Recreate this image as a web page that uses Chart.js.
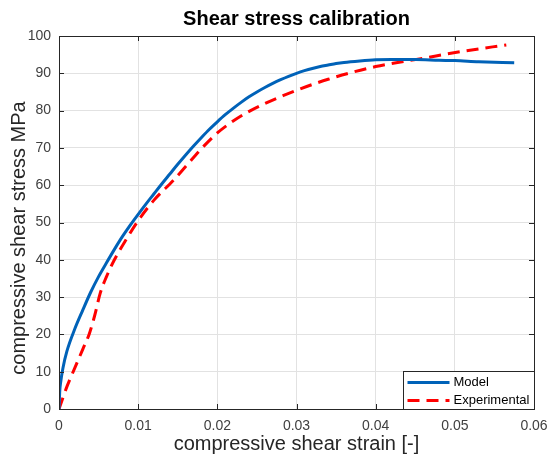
<!DOCTYPE html>
<html>
<head>
<meta charset="utf-8">
<script src="https://cdn.jsdelivr.net/npm/chart.js@4.4.0/dist/chart.umd.min.js"></script>
<style>
  body { margin: 0; background: #fff; }
  #wrap { width: 549px; height: 462px; }
</style>
</head>
<body>
<div id="wrap"><canvas id="chart" width="549" height="462"></canvas></div>
<script>
// values
const modelStrain = [0, 0.0001, 0.0002, 0.0005, 0.001, 0.002, 0.003, 0.004, 0.005, 0.006, 0.007, 0.008, 0.009, 0.010,
    0.011, 0.012, 0.013, 0.014, 0.015, 0.016, 0.017, 0.018, 0.019, 0.020, 0.021, 0.022, 0.023, 0.024, 0.025,
    0.026, 0.027, 0.028, 0.029, 0.030, 0.031, 0.032, 0.033, 0.034, 0.035, 0.036, 0.038, 0.040, 0.042, 0.045,
    0.048, 0.050, 0.053, 0.0575];
const modelStress = [0, 5, 7, 11, 15.5, 21.5, 26.5, 31.3, 35.5, 39.2, 42.8, 46.2, 49.3, 52.2,
    55.0, 57.7, 60.4, 63.0, 65.6, 68.1, 70.5, 72.8, 75.0, 77.0, 78.9, 80.6, 82.2, 83.7, 85.0,
    86.2, 87.3, 88.3, 89.2, 90.0, 90.7, 91.3, 91.8, 92.2, 92.6, 92.9, 93.3, 93.6, 93.7, 93.7,
    93.5, 93.4, 93.1, 92.8];

const expStrain = [0, 0.001, 0.002, 0.003, 0.0038, 0.0045, 0.0052, 0.006, 0.007, 0.0085, 0.010, 0.012, 0.0144,
    0.016, 0.0179, 0.020, 0.022, 0.0242, 0.0283, 0.034, 0.040, 0.0459, 0.0513, 0.0565];
const expStress = [0, 6, 11, 16, 20, 25, 31, 35.5, 40, 45.5, 50.5, 56.0, 61.2,
    65.0, 69.6, 74.0, 77.2, 80, 84.0, 88.4, 91.8, 94.0, 96.0, 97.6];

const xTickValues = [0, 0.01, 0.02, 0.03, 0.04, 0.05, 0.06];
const yTickValues = [0, 10, 20, 30, 40, 50, 60, 70, 80, 90, 100];

const toPoints = (xs, ys) => xs.map((x, i) => ({ x: x, y: ys[i] }));

const axisColor = '#262626';
const gridColor = '#e2e2e2';
const fontFamily = '"Liberation Sans", Arial, Helvetica, sans-serif';

// box round the plot with inward tick marks, like the original
const axesBox = {
    id: 'axesBox',
    afterDraw(chart) {
        const { ctx, chartArea: a, scales } = chart;
        const len = 5;
        ctx.save();
        ctx.strokeStyle = axisColor;
        ctx.lineWidth = 1;
        ctx.beginPath();
        xTickValues.forEach(v => {
            const px = Math.round(scales.x.getPixelForValue(v)) + 0.5;
            ctx.moveTo(px, a.bottom); ctx.lineTo(px, a.bottom - len);
            ctx.moveTo(px, a.top); ctx.lineTo(px, a.top + len);
        });
        yTickValues.forEach(v => {
            const py = Math.round(scales.y.getPixelForValue(v)) + 0.5;
            ctx.moveTo(a.left, py); ctx.lineTo(a.left + len, py);
            ctx.moveTo(a.right, py); ctx.lineTo(a.right - len, py);
        });
        ctx.stroke();
        ctx.strokeRect(Math.round(a.left) + 0.5, Math.round(a.top) + 0.5,
            Math.round(a.right - a.left), Math.round(a.bottom - a.top));
        ctx.restore();
    }
};

// title centred over the plot, y title a bit below the axis centre
const titles = {
    id: 'titles',
    afterDraw(chart) {
        const { ctx, chartArea: a } = chart;
        ctx.save();
        ctx.textAlign = 'center';
        ctx.fillStyle = '#000';
        ctx.font = 'bold 20px ' + fontFamily;
        ctx.textBaseline = 'alphabetic';
        ctx.fillText('Shear stress calibration', (a.left + a.right) / 2, 25);

        ctx.translate(19, 238);
        ctx.rotate(-Math.PI / 2);
        ctx.font = '20px ' + fontFamily;
        ctx.fillStyle = axisColor;
        ctx.textBaseline = 'middle';
        ctx.fillText('compressive shear stress MPa', 0, 0);
        ctx.restore();
    }
};

// legend box in the lower right corner of the plot
const boxLegend = {
    id: 'boxLegend',
    afterDraw(chart) {
        const { ctx, chartArea: a } = chart;
        const w = 131, h = 38;
        const left = Math.round(a.right - w) + 0.5;
        const top = Math.round(a.bottom - h) + 0.5;
        ctx.save();
        ctx.fillStyle = '#fff';
        ctx.fillRect(left, top, w, h);
        ctx.strokeStyle = axisColor;
        ctx.lineWidth = 1;
        ctx.strokeRect(left, top, w, h);
        ctx.font = '13px ' + fontFamily;
        ctx.textBaseline = 'middle';
        chart.data.datasets.forEach((ds, i) => {
            const y = top + 11 + i * 18;
            ctx.beginPath();
            ctx.strokeStyle = ds.borderColor;
            ctx.lineWidth = ds.borderWidth;
            ctx.setLineDash(ds.borderDash || []);
            ctx.moveTo(left + 4, y);
            ctx.lineTo(left + 46, y);
            ctx.stroke();
            ctx.setLineDash([]);
            ctx.fillStyle = '#000';
            ctx.fillText(ds.label, left + 50, y);
        });
        ctx.restore();
    }
};

document.addEventListener('DOMContentLoaded', () => {
    new Chart(document.getElementById('chart'), {
        type: 'line',
        data: {
            datasets: [{
                label: 'Model',
                data: toPoints(modelStrain, modelStress),
                borderColor: '#0062B8',
                borderWidth: 3,
                pointRadius: 0,
                fill: false,
                cubicInterpolationMode: 'monotone'
            }, {
                label: 'Experimental',
                data: toPoints(expStrain, expStress),
                borderColor: '#FF0000',
                borderWidth: 3,
                borderDash: [12, 7],
                pointRadius: 0,
                fill: false,
                cubicInterpolationMode: 'monotone'
            }]
        },
        options: {
            responsive: false,
            animation: false,
            layout: { padding: { top: 36, left: 0, right: 15, bottom: 0 } },
            plugins: {
                legend: { display: false },
                tooltip: { enabled: false },
                title: { display: false }
            },
            scales: {
                x: {
                    type: 'linear',
                    min: 0,
                    max: 0.06,
                    afterFit: s => {
                        s.height = 53;
                        s.paddingLeft = 0;
                        s.paddingRight = 0;
                    },
                    afterBuildTicks: s => { s.ticks = xTickValues.map(v => ({ value: v })); },
                    grid: { color: gridColor, drawTicks: false },
                    border: { display: false },
                    ticks: {
                        color: '#404040',
                        padding: 9,
                        maxRotation: 0,
                        font: { family: fontFamily, size: 14 },
                        callback: v => String(Number(v.toFixed(2)))
                    },
                    title: {
                        display: true,
                        text: 'compressive shear strain [-]',
                        color: axisColor,
                        font: { family: fontFamily, size: 20 },
                        padding: { top: 0, bottom: 6 }
                    }
                },
                y: {
                    type: 'linear',
                    min: 0,
                    max: 100,
                    afterFit: s => { s.width = 59; },
                    afterBuildTicks: s => { s.ticks = yTickValues.map(v => ({ value: v })); },
                    grid: { color: gridColor, drawTicks: false },
                    border: { display: false },
                    ticks: {
                        color: '#404040',
                        padding: 8,
                        font: { family: fontFamily, size: 14 }
                    }
                }
            }
        },
        plugins: [axesBox, titles, boxLegend]
    });
});
</script>
</body>
</html>
